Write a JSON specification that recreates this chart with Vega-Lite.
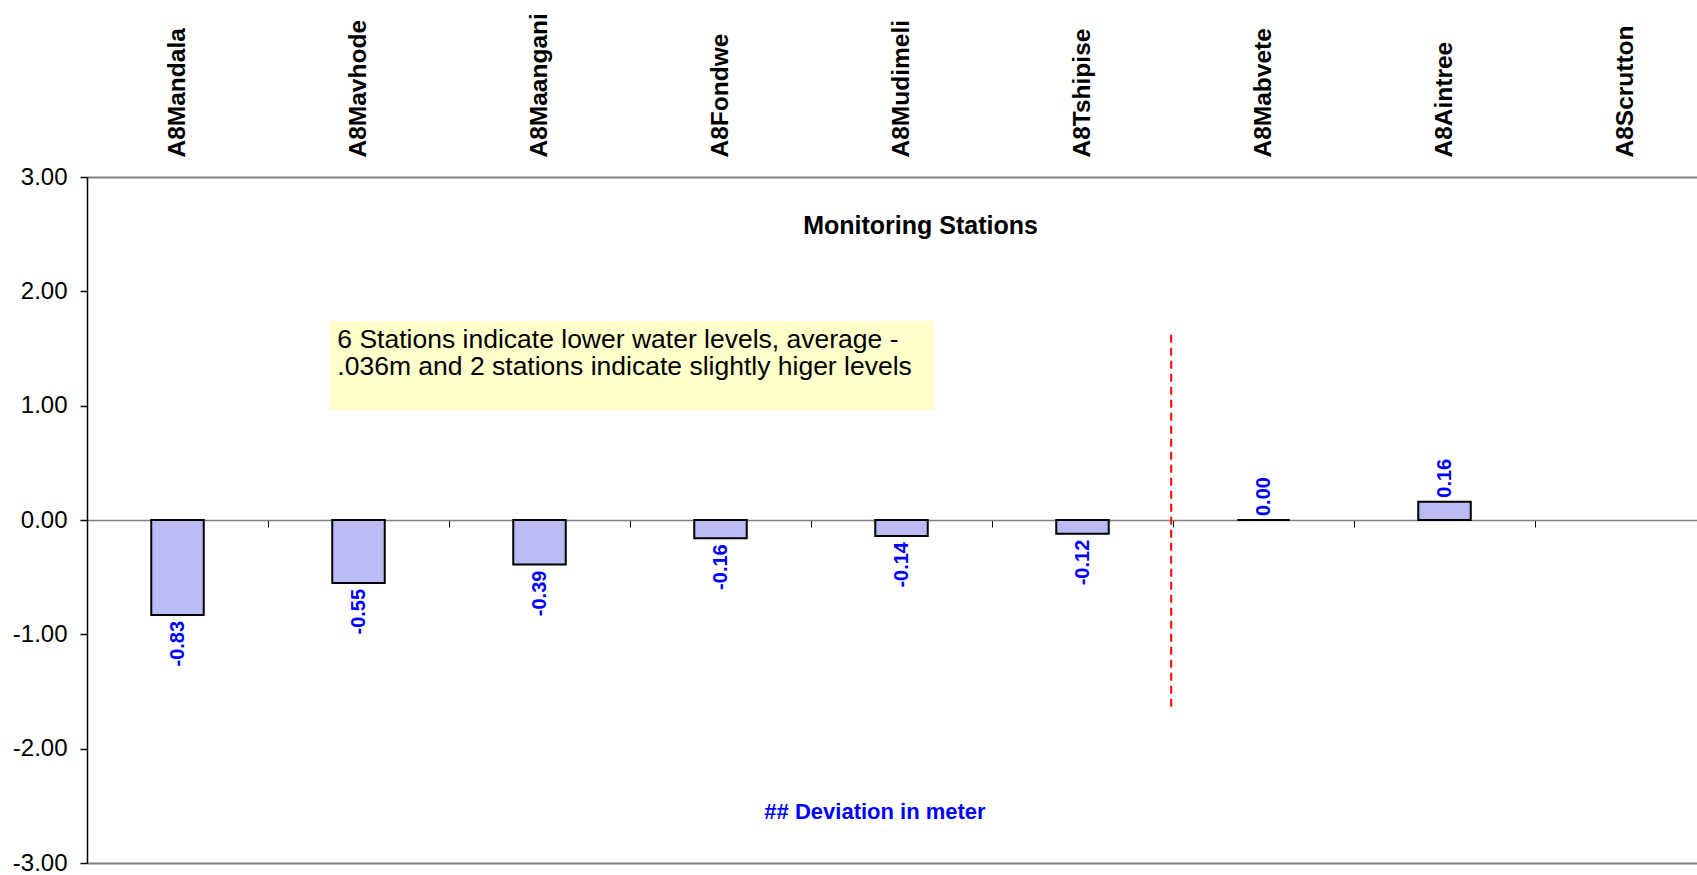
{
  "$schema": "https://vega.github.io/schema/vega-lite/v6.json",
  "width": 1610,
  "height": 686,
  "autosize": {"type": "none"},
  "padding": {"left": 87, "top": 177, "right": 0, "bottom": 12},
  "background": "white",
  "config": {
    "font": "Liberation Sans",
    "view": {"stroke": null},
    "locale": {"number": {"decimal": ".", "thousands": ",", "grouping": [3], "currency": ["$", ""], "minus": "-"}},
    "axisY": {
      "grid": false, "labelFontSize": 24, "labelColor": "black", "labelPadding": 13,
      "tickSize": 7, "tickColor": "black", "tickWidth": 1.5, "domainColor": "black", "domainWidth": 1.5,
      "titleColor": "#0000ff", "titleFontSize": 22, "titleFontWeight": "bold",
      "titleAngle": 0, "titleX": 787.5, "titleY": 634, "titleAlign": "center", "titleBaseline": "middle"
    }
  },
  "datasets": {
    "stations": [
      {"station": "A8Mandala", "dev": -0.83},
      {"station": "A8Mavhode", "dev": -0.55},
      {"station": "A8Maangani", "dev": -0.39},
      {"station": "A8Fondwe", "dev": -0.16},
      {"station": "A8Mudimeli", "dev": -0.14},
      {"station": "A8Tshipise", "dev": -0.12},
      {"station": "A8Mabvete", "dev": 0.0},
      {"station": "A8Aintree", "dev": 0.16},
      {"station": "A8Scrutton", "dev": null}
    ],
    "note": [
      {"x1": 1.343, "x2": 4.68, "y1": 1.741, "y2": 0.959, "tx": 1.383, "ty": 1.508,
       "label": "6 Stations indicate lower water levels, average -\n.036m and 2 stations indicate slightly higer levels"}
    ],
    "divider": [
      {"x": 5.99, "y1": 1.62, "y2": -1.65}
    ]
  },
  "layer": [
    {
      "data": {"name": "note"},
      "mark": {"type": "rect", "fill": "#ffffcc", "stroke": null},
      "encoding": {
        "x": {
          "field": "x1", "type": "quantitative",
          "scale": {"domain": [0, 9], "range": [0, 1629], "nice": false, "zero": false},
          "axis": {"orient": "bottom", "labels": false, "ticks": false, "title": null, "grid": false, "domainColor": "#808080", "domainWidth": 2}
        },
        "x2": {"field": "x2"},
        "y": {"field": "y1", "type": "quantitative", "scale": {"domain": [-3, 3], "nice": false},
              "axis": {"orient": "left", "values": [-3, -2, -1, 0, 1, 2, 3], "format": ".2f", "title": "## Deviation in meter"}},
        "y2": {"field": "y2"}
      }
    },
    {
      "data": {"name": "note"},
      "mark": {"type": "text", "align": "left", "baseline": "alphabetic", "fontSize": 26.5, "lineHeight": 27.7, "lineBreak": "\n", "color": "black"},
      "encoding": {
        "x": {"field": "tx", "type": "quantitative", "scale": {"domain": [0, 9], "range": [0, 1629], "nice": false, "zero": false}, "axis": null},
        "y": {"field": "ty", "type": "quantitative", "scale": {"domain": [-3, 3], "nice": false},
              "axis": {"orient": "left", "values": [-3, -2, -1, 0, 1, 2, 3], "format": ".2f", "title": "## Deviation in meter"}},
        "text": {"field": "label"}
      }
    },
    {
      "data": {"name": "divider"},
      "mark": {"type": "rule", "color": "#ff0000", "strokeWidth": 2, "strokeDash": [8, 5]},
      "encoding": {
        "x": {"field": "x", "type": "quantitative", "scale": {"domain": [0, 9], "range": [0, 1629], "nice": false, "zero": false}, "axis": null},
        "y": {"field": "y1", "type": "quantitative", "scale": {"domain": [-3, 3], "nice": false},
              "axis": {"orient": "left", "values": [-3, -2, -1, 0, 1, 2, 3], "format": ".2f", "title": "## Deviation in meter"}},
        "y2": {"field": "y2"}
      }
    },
    {
      "data": {"name": "stations"},
      "mark": {"type": "bar", "fill": "#babaf4", "stroke": "black", "strokeWidth": 2, "width": {"band": 0.29}},
      "encoding": {
        "x": {
          "field": "station", "type": "nominal",
          "scale": {"domain": ["A8Mandala", "A8Mavhode", "A8Maangani", "A8Fondwe", "A8Mudimeli", "A8Tshipise", "A8Mabvete", "A8Aintree", "A8Scrutton"], "range": [0, 1629], "paddingInner": 0, "paddingOuter": 0},
          "axis": {
            "orient": "top", "labelAngle": -90, "labelFontSize": 24.5, "labelFontWeight": "bold", "labelColor": "black",
            "labelPadding": 20, "ticks": false, "domain": true, "domainColor": "#808080", "domainWidth": 2,
            "labelOverlap": false, "labelBound": false, "labelFlush": false,
            "title": "Monitoring Stations", "titleFontSize": 25, "titleFontWeight": "bold", "titleColor": "black",
            "titleX": 833, "titleY": 48, "titleAlign": "center", "titleBaseline": "middle", "titleAngle": 0
          }
        },
        "y": {"field": "dev", "type": "quantitative", "scale": {"domain": [-3, 3], "nice": false},
              "axis": {"orient": "left", "values": [-3, -2, -1, 0, 1, 2, 3], "format": ".2f", "title": "## Deviation in meter"}}
      }
    },
    {
      "data": {"name": "stations"},
      "transform": [{"filter": "datum.dev != null && datum.dev < 0"}],
      "mark": {"type": "text", "angle": 270, "align": "right", "baseline": "middle", "dx": -6, "fontSize": 20, "fontWeight": "bold", "color": "#0000ff"},
      "encoding": {
        "x": {
          "field": "station", "type": "nominal",
          "scale": {"domain": ["A8Mandala", "A8Mavhode", "A8Maangani", "A8Fondwe", "A8Mudimeli", "A8Tshipise", "A8Mabvete", "A8Aintree", "A8Scrutton"], "range": [0, 1629], "paddingInner": 0, "paddingOuter": 0},
          "axis": {
            "orient": "bottom", "offset": -343, "labels": false, "title": null, "tickBand": "extent",
            "tickSize": 7, "tickColor": "black", "tickWidth": 1, "domainColor": "#808080", "domainWidth": 1.5
          }
        },
        "y": {"field": "dev", "type": "quantitative", "scale": {"domain": [-3, 3], "nice": false},
              "axis": {"orient": "left", "values": [-3, -2, -1, 0, 1, 2, 3], "format": ".2f", "title": "## Deviation in meter"}},
        "text": {"field": "dev", "type": "quantitative", "format": ".2f"}
      }
    },
    {
      "data": {"name": "stations"},
      "transform": [{"filter": "datum.dev != null && datum.dev >= 0"}],
      "mark": {"type": "text", "angle": 270, "align": "left", "baseline": "middle", "dx": 4, "fontSize": 20, "fontWeight": "bold", "color": "#0000ff"},
      "encoding": {
        "x": {
          "field": "station", "type": "nominal",
          "scale": {"domain": ["A8Mandala", "A8Mavhode", "A8Maangani", "A8Fondwe", "A8Mudimeli", "A8Tshipise", "A8Mabvete", "A8Aintree", "A8Scrutton"], "range": [0, 1629], "paddingInner": 0, "paddingOuter": 0},
          "axis": null
        },
        "y": {"field": "dev", "type": "quantitative", "scale": {"domain": [-3, 3], "nice": false},
              "axis": {"orient": "left", "values": [-3, -2, -1, 0, 1, 2, 3], "format": ".2f", "title": "## Deviation in meter"}},
        "text": {"field": "dev", "type": "quantitative", "format": ".2f"}
      }
    }
  ],
  "resolve": {"scale": {"x": "independent"}}
}
